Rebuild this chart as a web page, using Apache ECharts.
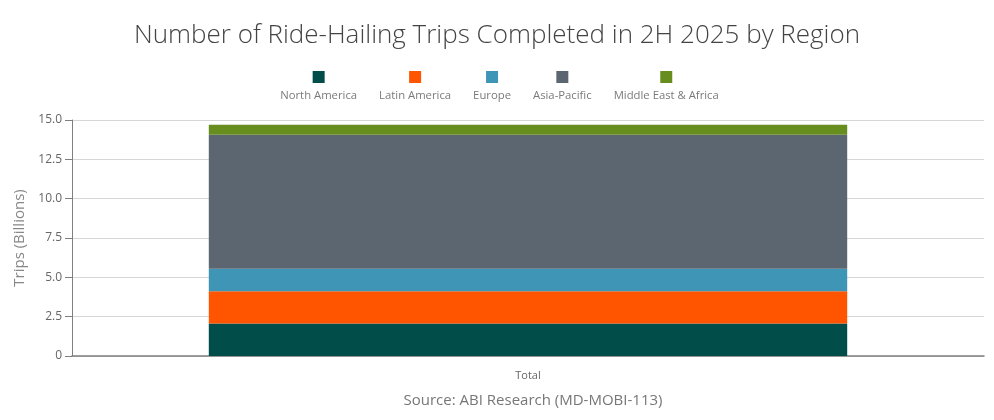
<!DOCTYPE html>
<html>
<head>
<meta charset="utf-8">
<script src="https://cdn.jsdelivr.net/npm/echarts@6/dist/echarts.min.js"></script>
<style>
html,body{margin:0;padding:0;background:#fff;}
#chart{width:994px;height:420px;}
</style>
</head>
<body>
<div id="chart"></div>
<script>
const categories = ['Total'];
const seriesNames = ['North America', 'Latin America', 'Europe', 'Asia-Pacific', 'Middle East & Africa'];
const northAmerica = [2.07];
const latinAmerica = [2.04];
const europe = [1.44];
const asiaPacific = [8.52];
const middleEastAfrica = [0.63];
const seriesValues = [northAmerica, latinAmerica, europe, asiaPacific, middleEastAfrica];
const colors = ['#014d4a', '#ff5500', '#3f95b5', '#5c6670', '#678d1f'];
const yTicks = [0, 2.5, 5, 7.5, 10, 12.5, 15];

const FONT = '"Open Sans", "Noto Sans", sans-serif';
const chart = echarts.init(document.getElementById('chart'));

const rich = { t: { color: '#7a7a7a', fontSize: 11.3, fontFamily: FONT, lineHeight: 18, align: 'center' } };
seriesNames.forEach((n, i) => {
  rich['c' + i] = { backgroundColor: colors[i], width: 12, height: 12, lineHeight: 20, align: 'center' };
});

chart.setOption({
  animation: false,
  color: colors,
  title: [
    {
      text: 'Number of Ride-Hailing Trips Completed in 2H 2025 by Region',
      left: 'center', top: 18,
      textStyle: { fontFamily: FONT, fontWeight: 300, fontSize: 26, color: '#444' }
    },
    {
      text: 'Source: ABI Research (MD-MOBI-113)',
      left: 528, top: 388, textAlign: 'center',
      textStyle: { fontFamily: FONT, fontWeight: 'normal', fontSize: 15, color: '#777' }
    }
  ],
  legend: {
    data: seriesNames,
    top: 71, left: 'center',
    padding: 0,
    itemWidth: 0, itemHeight: 0,
    itemGap: 17,
    selectedMode: true,
    formatter: name => '{c' + seriesNames.indexOf(name) + '|}\n{t|' + name + '}',
    textStyle: { rich: rich, fontFamily: FONT }
  },
  grid: { left: 72, right: 10, top: 120, bottom: 64, containLabel: false },
  xAxis: {
    type: 'category',
    data: categories,
    axisLine: { lineStyle: { color: '#7f7f7f', width: 1.5 } },
    axisTick: { show: false },
    axisLabel: { color: '#666', fontSize: 11, fontFamily: FONT, margin: 14 }
  },
  yAxis: {
    type: 'value',
    min: 0, max: 15, interval: 2.5,
    name: 'Trips (Billions)',
    nameLocation: 'middle',
    nameGap: 42,
    nameTextStyle: { color: '#888', fontSize: 15, fontFamily: FONT },
    axisLine: { show: true, lineStyle: { color: '#7f7f7f' } },
    axisTick: { show: true, length: 7, lineStyle: { color: '#7f7f7f' } },
    axisLabel: {
      color: '#666', fontSize: 12, fontFamily: FONT, margin: 10,
      formatter: v => (yTicks.indexOf(v) >= 0 ? (v === 0 ? '0' : v.toFixed(1)) : '')
    },
    splitLine: { lineStyle: { color: '#d6d6d6' } }
  },
  series: seriesNames.map((n, i) => ({
    name: n,
    type: 'bar',
    stack: 'total',
    barWidth: '70%',
    data: seriesValues[i],
    itemStyle: { color: colors[i] },
    emphasis: { disabled: true }
  }))
});
</script>
</body>
</html>
